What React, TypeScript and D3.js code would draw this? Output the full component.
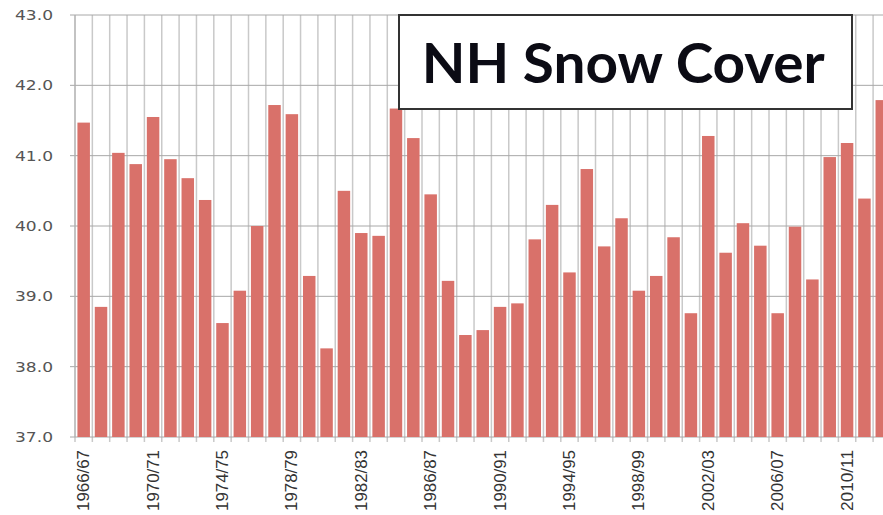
import React from "react";
import * as d3 from "d3";

const years: string[] = [];
for (let y = 1966; y <= 2012; y++) {
  years.push(`${y}/${String((y + 1) % 100).padStart(2, "0")}`);
}

const snowCover: number[] = [
  41.47, 38.85, 41.04, 40.88, 41.55, 40.95, 40.68, 40.37, 38.62, 39.08,
  40.0, 41.72, 41.59, 39.29, 38.26, 40.5, 39.9, 39.86, 41.67, 41.25,
  40.45, 39.22, 38.45, 38.52, 38.85, 38.9, 39.81, 40.3, 39.34, 40.81,
  39.71, 40.11, 39.08, 39.29, 39.84, 38.76, 41.28, 39.62, 40.04, 39.72,
  38.76, 39.99, 39.24, 40.98, 41.18, 40.39, 41.79,
];

const yTicks: number[] = [37, 38, 39, 40, 41, 42, 43];
const title = "NH Snow Cover";

export default function App() {
  const W = 883;
  const H = 515;
  const step = 17.35;
  const x0 = 75;
  const x = d3
    .scaleBand<string>()
    .domain(years)
    .range([x0, x0 + step * years.length])
    .paddingInner(0.28)
    .paddingOuter(0.14);
  const y = d3.scaleLinear().domain([37, 43]).range([437, 15]);
  const realStep = x.step();
  const bounds = d3.range(years.length + 1).map((k) => x0 + k * realStep);

  return (
    <svg
      width={W}
      height={H}
      style={{ position: "absolute", left: 0, top: 0, display: "block", background: "#fff" }}
    >
      <defs>
        <clipPath id="plotclip">
          <rect x={0} y={0} width={W} height={H} />
        </clipPath>
      </defs>
      <g clipPath="url(#plotclip)">
        {bounds.map((bx, i) => (
          <line key={"vg" + i} x1={bx} x2={bx} y1={y(43)} y2={y(37) + 5} stroke="#c9c9c9" strokeWidth={1.5} />
        ))}
        {yTicks.map((t) => (
          <line key={"hg" + t} x1={x0 - 5} x2={W} y1={y(t)} y2={y(t)} stroke="#a8a8a8" strokeWidth={1} />
        ))}
        {years.map((yr, i) => (
          <rect
            key={yr}
            x={x(yr)}
            y={y(snowCover[i])}
            width={x.bandwidth()}
            height={y(37) - y(snowCover[i])}
            fill="#d9716a"
          />
        ))}
        <line x1={x0} x2={x0} y1={y(43)} y2={y(37)} stroke="#b0b0b0" strokeWidth={1} />
      </g>
      {yTicks.map((t) => (
        <text
          key={"yl" + t}
          x={53}
          y={y(t)}
          textAnchor="end"
          dominantBaseline="central"
          fontFamily="DejaVu Sans"
          fontSize={14}
          fill="#555"
          textLength={38}
          lengthAdjust="spacingAndGlyphs"
        >
          {t.toFixed(1)}
        </text>
      ))}
      {years.map((yr, i) =>
        i % 4 === 0 ? (
          <text
            key={"xl" + yr}
            transform={`translate(${(x(yr) as number) + x.bandwidth() / 2},450) rotate(-90)`}
            textAnchor="end"
            dominantBaseline="central"
            fontFamily="Liberation Sans"
            fontSize={16}
            fill="#333"
            textLength={61}
            lengthAdjust="spacingAndGlyphs"
          >
            {yr}
          </text>
        ) : null
      )}
      <rect x={399} y={15} width={453} height={94} fill="#fff" stroke="#333" strokeWidth={2} />
      <text
        x={421.7}
        y={83}
        fontFamily="Lato"
        fontWeight={700}
        fontSize={56}
        fill="#0b0b14"
        textLength={403}
        lengthAdjust="spacingAndGlyphs"
      >
        {title}
      </text>
    </svg>
  );
}
